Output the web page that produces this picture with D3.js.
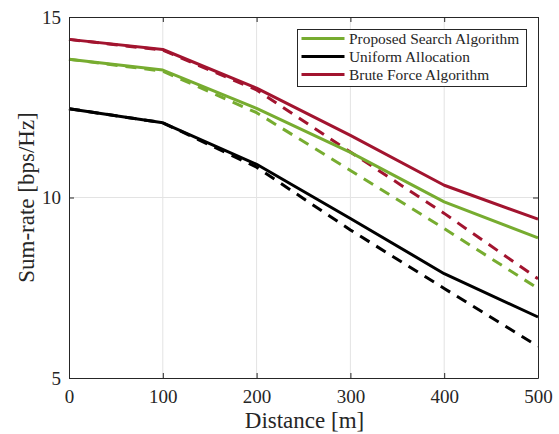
<!DOCTYPE html>
<html>
<head>
<meta charset="utf-8">
<script src="https://cdn.jsdelivr.net/npm/d3@7"></script>
<style>
  body { margin: 0; background: #fff; }
</style>
</head>
<body>
<svg id="chart" width="559" height="434"></svg>
<script>
// distances (m) and sum-rates (bps/Hz)
var distances = [0, 100, 200, 300, 400, 500];
var proposedSolid = [13.83, 13.53, 12.47, 11.25, 9.88, 8.88];
var proposedDashed = [13.83, 13.50, 12.35, 10.75, 9.14, 7.48];
var uniformSolid = [12.46, 12.07, 10.92, 9.42, 7.89, 6.69];
var uniformDashed = [12.46, 12.07, 10.84, 9.10, 7.48, 5.88];
var bruteSolid = [14.38, 14.10, 13.03, 11.72, 10.34, 9.40];
var bruteDashed = [14.38, 14.08, 12.98, 11.26, 9.56, 7.75];
var legendLabels = ['Proposed Search Algorithm', 'Uniform Allocation', 'Brute Force Algorithm'];
var xTicks = [0, 100, 200, 300, 400, 500];
var yTicks = [5, 10, 15];

var green = '#77AC30', black = '#000000', red = '#A2142F';
var serif = '"Liberation Serif", "DejaVu Serif", serif';

var margin = {left: 69, top: 17, right: 21, bottom: 56};
var width = 559 - margin.left - margin.right;
var height = 434 - margin.top - margin.bottom;

var svg = d3.select('#chart');
var g = svg.append('g').attr('transform', 'translate(' + margin.left + ',' + margin.top + ')');

var x = d3.scaleLinear().domain([0, 500]).range([0, width]);
var y = d3.scaleLinear().domain([5, 15]).range([height, 0]);

// grid
g.append('g').selectAll('line').data(xTicks.slice(1, -1)).enter().append('line')
  .attr('x1', function(d) { return x(d); }).attr('x2', function(d) { return x(d); })
  .attr('y1', 0).attr('y2', height)
  .attr('stroke', '#e3e3e3').attr('stroke-width', 1);
g.append('g').selectAll('line').data(yTicks.slice(1, -1)).enter().append('line')
  .attr('y1', function(d) { return y(d); }).attr('y2', function(d) { return y(d); })
  .attr('x1', 0).attr('x2', width)
  .attr('stroke', '#e3e3e3').attr('stroke-width', 1);

// series
var series = [
  {values: bruteDashed, color: red, dash: '11,8'},
  {values: proposedDashed, color: green, dash: '11,8'},
  {values: uniformDashed, color: black, dash: '11,8'},
  {values: bruteSolid, color: red, dash: null},
  {values: proposedSolid, color: green, dash: null},
  {values: uniformSolid, color: black, dash: null}
];
var line = d3.line()
  .x(function(d, i) { return x(distances[i]); })
  .y(function(d) { return y(d); });

g.selectAll('path.series').data(series).enter().append('path')
  .attr('class', 'series')
  .attr('d', function(s) { return line(s.values); })
  .attr('fill', 'none')
  .attr('stroke', function(s) { return s.color; })
  .attr('stroke-width', 3)
  .attr('stroke-linejoin', 'round')
  .attr('stroke-dasharray', function(s) { return s.dash; });

// axes (ticks inside, full box)
var xAxis = g.append('g').attr('transform', 'translate(0,' + height + ')')
  .call(d3.axisBottom(x).tickValues(xTicks).tickSizeInner(-5).tickSizeOuter(0).tickPadding(12));
var xTop = g.append('g')
  .call(d3.axisTop(x).tickValues(xTicks).tickSizeInner(-5).tickSizeOuter(0).tickFormat(''));
var yAxis = g.append('g')
  .call(d3.axisLeft(y).tickValues(yTicks).tickSizeInner(-5).tickSizeOuter(0).tickPadding(8));
var yRight = g.append('g').attr('transform', 'translate(' + width + ',0)')
  .call(d3.axisRight(y).tickValues(yTicks).tickSizeInner(-5).tickSizeOuter(0).tickFormat(''));

[xAxis, xTop, yAxis, yRight].forEach(function(a) {
  a.select('.domain').attr('stroke', '#262626').attr('stroke-width', 1);
  a.selectAll('.tick line').attr('stroke', '#262626');
  a.selectAll('.tick text').attr('font-family', serif)
    .attr('font-size', 19).attr('fill', '#262626');
});

// axis labels
svg.append('text')
  .attr('x', margin.left + width / 2 + 1).attr('y', 428)
  .attr('text-anchor', 'middle').attr('font-size', 23)
  .attr('font-family', serif).attr('fill', '#262626')
  .text('Distance [m]');
svg.append('text')
  .attr('transform', 'translate(34,' + (margin.top + height / 2) + ') rotate(-90)')
  .attr('text-anchor', 'middle').attr('font-size', 23)
  .attr('font-family', serif).attr('fill', '#262626')
  .text('Sum-rate [bps/Hz]');

// legend
var legend = svg.append('g').attr('transform', 'translate(297.5,29.5)');
legend.append('rect')
  .attr('width', 229).attr('height', 57)
  .attr('fill', '#fff').attr('stroke', '#262626').attr('stroke-width', 1);
var legendColors = [green, black, red];
legendLabels.forEach(function(label, i) {
  var ly = 9 + i * 18;
  legend.append('line')
    .attr('x1', 4).attr('x2', 47).attr('y1', ly).attr('y2', ly)
    .attr('stroke', legendColors[i]).attr('stroke-width', 3);
  legend.append('text')
    .attr('x', 51.5).attr('y', ly).attr('dy', '0.35em')
    .attr('font-size', 15.4).attr('font-family', serif).attr('fill', '#262626')
    .text(label);
});
</script>
</body>
</html>
